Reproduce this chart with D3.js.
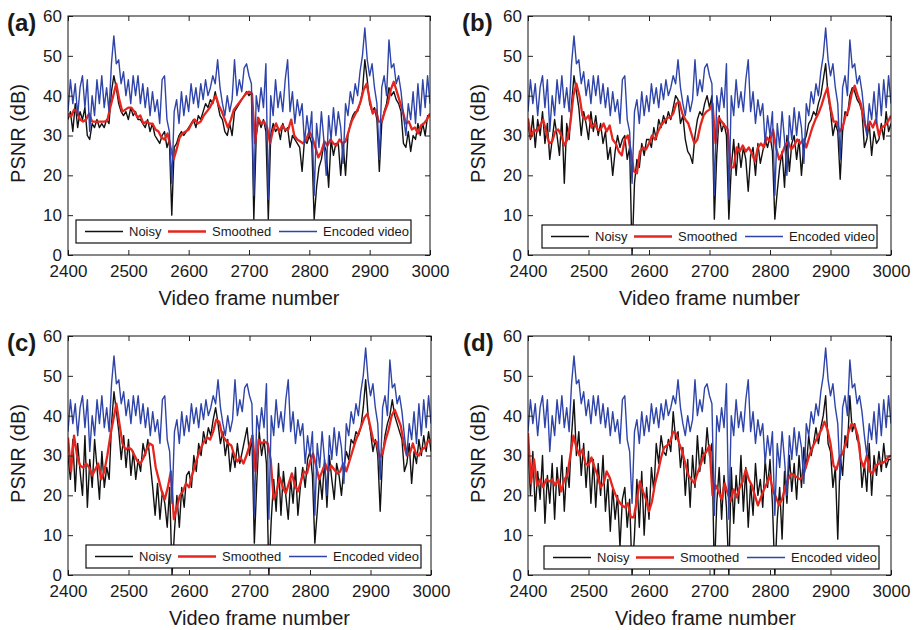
<!DOCTYPE html>
<html>
<head>
<meta charset="utf-8">
<script src="https://cdn.jsdelivr.net/npm/d3@7"></script>
<style>
    body { margin: 0; background: #fff; }
    svg text { font-family: "Liberation Sans", Arial, Helvetica, sans-serif; fill: #1a1a1a; }
</style>
</head>
<body>
<svg id="chart" width="918" height="630"></svg>
<script>
// noisy + encoded curves are read every 4th frame, smoothed every 5th
const frames = d3.range(2400, 3001, 4);
const framesSmooth = d3.range(2400, 3001, 5);
const xTicks = [2400, 2500, 2600, 2700, 2800, 2900, 3000];
const yTicks = [0, 10, 20, 30, 40, 50, 60];
const seriesNames = ["Noisy", "Smoothed", "Encoded video"];
const panelLabels = ["(a)", "(b)", "(c)", "(d)"];

// same encoded video curve in all four panels
const encoded = [
    36, 44, 38, 43, 35, 42, 45, 37, 44, 31,
    40, 35, 44, 38, 45, 37, 42, 36, 48, 55,
    48, 49, 43, 46, 40, 44, 38, 45, 40, 45,
    38, 43, 37, 42, 35, 41, 36, 39, 33, 44,
    45, 34, 31, 18, 36, 39, 33, 41, 35, 40,
    36, 43, 38, 42, 37, 43, 39, 44, 40, 42,
    45, 43, 49, 42, 38, 35, 40, 36, 39, 49,
    40, 44, 41, 47, 48, 45, 43, 15, 40, 36,
    42, 37, 48, 14, 40, 35, 44, 37, 41, 36,
    44, 49, 36, 41, 33, 39, 35, 38, 28, 35,
    30, 36, 15, 33, 27, 36, 29, 20, 35, 29,
    37, 30, 36, 32, 23, 38, 35, 41, 38, 43,
    40, 46, 50, 57, 49, 45, 48, 42, 38, 24,
    42, 45, 40, 54, 47, 48, 43, 45, 41, 35,
    30, 38, 34, 41, 33, 43, 35, 44, 37, 45,
    38
];

const noisyA = [
    34, 36, 31, 38, 32, 36, 34, 37, 30, 29,
    33, 32, 34, 32, 33, 32, 34, 33, 41, 45,
    42, 38, 36, 35, 36, 34, 37, 35, 36, 34,
    34, 33, 32, 34, 31, 33, 30, 29, 28, 30,
    31, 27, 29, 10, 27, 28, 30, 31, 30, 31,
    32, 33, 34, 32, 35, 34, 36, 38, 37, 39,
    38, 41, 38, 35, 34, 31, 30, 33, 30, 36,
    37, 38, 39, 40, 41, 40, 41, 9, 30, 34,
    32, 34, 31, 9, 30, 33, 31, 32, 29, 33,
    31, 32, 27, 30, 29, 28, 27, 21, 29, 28,
    30, 28, 9, 17, 22, 24, 28, 26, 17, 29,
    25, 28, 28, 20, 28, 20, 30, 33, 35, 36,
    36, 38, 41, 49, 44, 38, 36, 37, 34, 21,
    33, 36, 38, 42, 40, 41, 39, 38, 36, 28,
    27, 31, 26, 30, 29, 33, 30, 33, 30, 35,
    35
];
const smoothA = [
    35.5, 34.7, 36.5, 36, 34, 33.5, 34, 35.5, 33.5, 33.5,
    33.5, 33.5, 33.5, 33.7, 37, 40, 43, 39, 36, 36.5,
    37, 37, 36, 34.5, 35, 33, 33.5, 33, 33, 31.5,
    31, 29.5, 29, 30.5, 27, 24, 26.5, 29.5, 30.5, 31,
    31.5, 33, 34, 33, 33.5, 35, 36, 37, 38.5, 40,
    37.5, 36, 34, 32, 34, 36.5, 37.5, 38.5, 39.5, 40.5,
    41, 40.5, 28, 34.5, 33, 33.5, 32, 28, 31.5, 33,
    31, 32.5, 31.5, 31.5, 34, 30, 29, 28.5, 28, 29,
    31, 29.5, 27, 24.5, 26, 28.5, 27.5, 29, 28, 27.5,
    29, 28, 28.5, 31, 33.5, 35, 36.5, 38.5, 41.5, 43,
    39, 35.5, 36.5, 33.5, 33.5, 36, 38, 41.5, 43.5, 41,
    38.5, 36, 33, 33.5, 31.5, 32, 30.5, 32.5, 33, 34,
    35.5
];

const noisyB = [
    33, 29, 35, 27, 34, 30, 36, 28, 33, 24,
    29, 34, 30, 25, 35, 18, 33, 29, 38, 45,
    41, 37, 30, 36, 33, 29, 36, 31, 35, 30,
    33, 28, 31, 24, 27, 20, 26, 30, 27, 29,
    30, 24, 27, 0, 18, 24, 22, 28, 25, 29,
    29, 27, 32, 29, 34, 32, 35, 33, 36, 34,
    37, 40, 39, 33, 35, 29, 26, 25, 23, 30,
    34, 36, 35, 38, 40, 37, 40, 9, 25, 35,
    31, 33, 30, 9, 22, 29, 20, 28, 22, 27,
    24, 16, 25, 27, 20, 28, 23, 26, 29, 27,
    30, 26, 9, 16, 22, 26, 17, 30, 21, 28,
    30, 24, 29, 20, 28, 30, 33, 34, 36, 35,
    38, 40, 44, 48, 40, 36, 30, 33, 31, 19,
    31, 36, 35, 40, 42, 41, 39, 38, 36, 27,
    29, 33, 25, 31, 28, 29, 33, 29, 36, 31,
    33
];
const smoothB = [
    34.3, 29.5, 31.5, 31, 32.5, 34, 31, 28, 28.5, 31,
    31.5, 30, 27.5, 29, 33, 40, 43, 40, 35, 34,
    35, 32, 33, 31.5, 31.5, 33, 31, 32.5, 29, 28,
    26, 25, 29, 30, 26, 21, 20.5, 26, 27, 26.5,
    28, 30, 29, 31, 32.5, 33.5, 34.5, 34.5, 35.5, 38,
    38.5, 35.5, 34, 33, 30.5, 28, 29, 32.5, 35, 36,
    36.5, 38, 28, 34.5, 33.5, 32.5, 31.5, 22, 22, 27,
    26, 27.5, 26, 27, 25.5, 23.5, 27, 28, 27, 29.5,
    28.5, 31.5, 27, 24, 25.5, 27.5, 28.5, 26.5, 27.5, 29,
    28, 29, 27, 29.5, 32, 34, 35.5, 37.5, 40, 42,
    37, 33.5, 33.5, 31, 32, 35, 36.5, 40.5, 42.5, 40,
    38, 34, 31, 33.5, 32, 34, 30, 32, 32.5, 33.5,
    35
];

const noisyC = [
    30, 24, 34, 21, 33, 26, 20, 35, 17, 29,
    22, 34, 27, 19, 31, 22, 27, 24, 38, 46,
    41, 36, 29, 35, 27, 34, 25, 31, 24, 29,
    26, 33, 30, 34, 28, 22, 15, 23, 14, 21,
    18, 12, 22, 0, 11, 20, 12, 22, 17, 25,
    26, 22, 30, 26, 33, 30, 36, 33, 37, 35,
    39, 42, 38, 33, 36, 30, 34, 26, 31, 27,
    33, 28, 31, 34, 37, 30, 35, 8, 23, 36,
    30, 34, 28, 0, 14, 24, 16, 28, 15, 26,
    20, 14, 24, 18, 27, 15, 22, 27, 22, 29,
    31, 25, 8, 16, 25, 19, 29, 17, 30, 24,
    19, 28, 25, 20, 27, 31, 29, 34, 33, 36,
    35, 37, 42, 49, 40, 36, 31, 34, 30, 16,
    30, 35, 38, 40, 44, 40, 38, 36, 34, 26,
    28, 33, 23, 31, 28, 34, 30, 35, 31, 36,
    31
];
const smoothC = [
    34.5, 26, 35, 30, 27.5, 27, 28, 27, 25, 26.5,
    28, 24, 26, 30, 35, 39, 43, 38, 33, 31.5,
    32, 31.5, 30, 28.5, 28, 29.5, 31.5, 33, 32.5, 27,
    24, 21, 19, 22, 26, 14, 17, 20, 21, 23,
    22, 25, 27.5, 30, 32, 33.5, 34.5, 34, 36, 39,
    38.5, 35, 34, 33, 32.5, 30, 28.5, 29.5, 28, 30,
    32.5, 35, 26, 34, 33, 33.5, 33, 29, 19, 21,
    24.5, 22, 20.5, 23, 25.5, 22.5, 21, 23.5, 26, 25.5,
    28.5, 30.5, 27.5, 24, 26, 28, 26, 27.5, 26.5, 25.5,
    26, 28, 26, 28.5, 31, 33.5, 35.5, 37.5, 39.5, 40.5,
    37, 33.5, 33.5, 29.5, 30.5, 34, 36.5, 40, 41.5, 39.5,
    37.5, 33, 30, 30.5, 33, 30.5, 30, 31.5, 32, 33.5,
    34
];

const noisyD = [
    33, 20, 31, 16, 26, 19, 30, 13, 25, 18,
    28, 14, 27, 20, 30, 16, 27, 22, 35, 44,
    30, 36, 25, 33, 22, 31, 18, 29, 17, 28,
    20, 30, 16, 24, 11, 22, 14, 20, 7, 19,
    22, 12, 19, 0, 10, 24, 12, 26, 10, 22,
    14, 27, 21, 33, 28, 35, 31, 30, 34, 31,
    41, 34, 36, 27, 32, 20, 29, 17, 30, 22,
    35, 26, 32, 28, 37, 30, 33, 0, 18, 27,
    14, 25, 17, 0, 27, 13, 25, 18, 30, 16,
    27, 12, 23, 15, 28, 20, 24, 17, 29, 22,
    29, 18, 0, 14, 22, 9, 26, 18, 30, 21,
    28, 19, 30, 22, 32, 27, 35, 30, 33, 37,
    33, 37, 40, 45, 33, 31, 22, 27, 9, 30,
    25, 35, 32, 45, 36, 38, 34, 33, 22, 28,
    21, 33, 20, 30, 25, 31, 26, 33, 27, 29,
    29
];
const smoothD = [
    35.7, 23, 29, 22.5, 24, 22, 24, 23.5, 24, 22.5,
    24, 21, 24, 25, 30, 35, 32, 30, 31.5, 28,
    27.5, 29.5, 27, 25, 22, 23, 26, 24.5, 22, 20,
    18.5, 17.5, 17, 18, 14.5, 14.5, 19, 23.5, 21, 19,
    16, 18.5, 23, 26, 29.5, 32, 32.5, 33.5, 36, 35.5,
    33, 31, 28, 25, 24, 23, 25.5, 27.5, 30, 31,
    32.5, 20, 22.5, 21, 19, 23, 20.5, 18.5, 21.5, 19.5,
    22, 23.5, 26.5, 24, 22.5, 20, 17.5, 19.5, 21.5, 23,
    25, 21, 19.5, 17.5, 19, 22, 24, 25.5, 25, 24.5,
    24, 25, 27.5, 30, 32, 33.5, 35, 36.5, 38.5, 36.5,
    33, 27.5, 26.5, 29.5, 30.5, 33, 36, 38, 37.5, 35,
    29, 27, 30, 26, 25.5, 27.5, 28, 28, 28.5, 29.5,
    30
];

const colors = ["#111111", "#e5261f", "#2e44a8"];
const widths = [1.4, 2.3, 1.4];

// where each panel sits on the page
const panels = [
    { label: panelLabels[0], noisy: noisyA, smooth: smoothA, left: 68, right: 430, top: 16, bottom: 255, legX: 76, legY: 220, titleX: 7, xLabDx: 0 },
    { label: panelLabels[1], noisy: noisyB, smooth: smoothB, left: 528, right: 891, top: 16, bottom: 255, legX: 542, legY: 225, titleX: 462, xLabDx: 0 },
    { label: panelLabels[2], noisy: noisyC, smooth: smoothC, left: 68, right: 431, top: 336, bottom: 575, legX: 86, legY: 545, titleX: 7, xLabDx: 10 },
    { label: panelLabels[3], noisy: noisyD, smooth: smoothD, left: 528, right: 891, top: 336, bottom: 575, legX: 544, legY: 546, titleX: 463, xLabDx: -4 }
];

const svg = d3.select("#chart");

panels.forEach((p, i) => drawPanel(p, i));

function drawPanel(p, i) {
    const x = d3.scaleLinear().domain([2400, 3000]).range([p.left, p.right]);
    const y = d3.scaleLinear().domain([0, 60]).range([p.bottom, p.top]);
    const g = svg.append("g");

    g.append("clipPath").attr("id", "clip" + i)
        .append("rect")
        .attr("x", p.left).attr("y", p.top)
        .attr("width", p.right - p.left).attr("height", p.bottom - p.top);

    const lineFor = xs => d3.line()
        .x((d, k) => x(xs[k]))
        .y(d => y(d));

    const data = [[p.noisy, frames], [p.smooth, framesSmooth], [encoded, frames]];
    const plot = g.append("g").attr("clip-path", `url(#clip${i})`);
    data.forEach(([values, xs], k) => {
        plot.append("path")
            .datum(values)
            .attr("d", lineFor(xs))
            .attr("fill", "none")
            .attr("stroke", colors[k])
            .attr("stroke-width", widths[k])
            .attr("stroke-linejoin", "round");
    });

    // axes, ticks pointing inwards like matlab
    const bottomAxis = g.append("g")
        .attr("transform", `translate(0,${p.bottom})`)
        .call(d3.axisBottom(x).tickValues(xTicks).tickSize(-5).tickPadding(10).tickFormat(d3.format("d")));
    const leftAxis = g.append("g")
        .attr("transform", `translate(${p.left},0)`)
        .call(d3.axisLeft(y).tickValues(yTicks).tickSize(-5).tickPadding(6));
    g.append("g")
        .attr("transform", `translate(0,${p.top})`)
        .call(d3.axisTop(x).tickValues(xTicks).tickSize(-5).tickFormat(""));
    g.append("g")
        .attr("transform", `translate(${p.right},0)`)
        .call(d3.axisRight(y).tickValues(yTicks).tickSize(-5).tickFormat(""));

    g.selectAll(".domain").remove();
    g.selectAll(".tick line").attr("stroke", "#222");
    [bottomAxis, leftAxis].forEach(a => a.selectAll("text")
        .style("font-size", "17px")
        .style("font-family", '"Liberation Sans", Arial, sans-serif')
        .attr("fill", "#1a1a1a"));

    g.append("rect")
        .attr("x", p.left).attr("y", p.top)
        .attr("width", p.right - p.left).attr("height", p.bottom - p.top)
        .attr("fill", "none")
        .attr("stroke", "#111")
        .attr("stroke-width", 1);

    // legend (covers the lines)
    const leg = g.append("g").attr("transform", `translate(${p.legX},${p.legY})`);
    leg.append("rect")
        .attr("width", 335).attr("height", 23)
        .attr("fill", "#fff")
        .attr("stroke", "#111")
        .attr("stroke-width", 1.2);
    const itemX = [9, 92, 203];
    seriesNames.forEach((name, k) => {
        leg.append("line")
            .attr("x1", itemX[k]).attr("x2", itemX[k] + 38)
            .attr("y1", 11.5).attr("y2", 11.5)
            .attr("stroke", colors[k])
            .attr("stroke-width", k === 1 ? 2.3 : 1.4);
        leg.append("text")
            .attr("x", itemX[k] + 44).attr("y", 16)
            .style("font-size", "13px")
            .text(name);
    });

    // labels
    g.append("text")
        .attr("x", p.titleX).attr("y", p.top + 15)
        .style("font-size", "24px")
        .style("font-weight", "bold")
        .text(p.label);

    g.append("text")
        .attr("x", (p.left + p.right) / 2 + p.xLabDx)
        .attr("y", p.bottom + 50)
        .attr("text-anchor", "middle")
        .style("font-size", "20px")
        .text("Video frame number");

    g.append("text")
        .attr("transform", `translate(${p.left - 43},${(p.top + p.bottom) / 2 - 2}) rotate(-90)`)
        .attr("text-anchor", "middle")
        .style("font-size", "20px")
        .text("PSNR (dB)");
}
</script>
</body>
</html>
